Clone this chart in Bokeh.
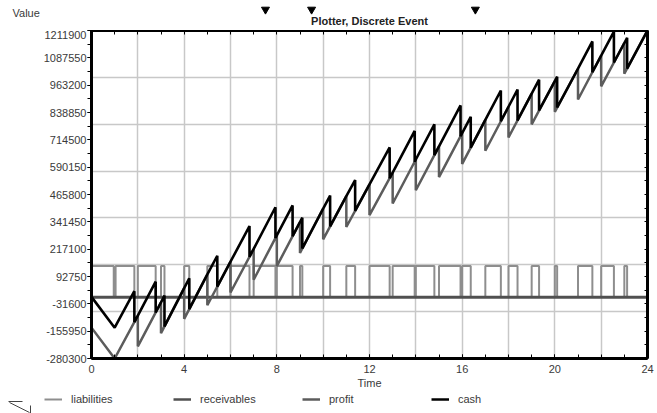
from bokeh.plotting import figure
from bokeh.layouts import column, row
from bokeh.models import FixedTicker, LinearAxis, Range1d, Legend, LegendItem, BasicTickFormatter
from bokeh.core.properties import value
from bokeh.embed import file_html
from bokeh.resources import INLINE

# ---------------- data ----------------
x_ticks = [0, 4, 8, 12, 16, 20, 24]
x_minor = list(range(0, 25))
x_grid = [2, 4, 6, 8, 10, 12, 14, 16, 18, 20, 22]

y_ticks = [-280300, -155950, -31600, 92750, 217100, 341450, 465800,
           590150, 714500, 838850, 963200, 1087550, 1211900]
y_labels = ["-280300", "-155950", "-31600", "92750", "217100", "341450", "465800",
            "590150", "714500", "838850", "963200", "1087550", "1211900"]
y_minor = [-280300, -218125, -155950, -93775, -31600, 30575, 92750, 154925, 217100,
           279275, 341450, 403625, 465800, 527975, 590150, 652325, 714500, 776675,
           838850, 901025, 963200, 1025375, 1087550, 1149725, 1211900]
y_grid = [-67129, 146043, 359214, 572386, 785557, 998729]

# liabilities: step series (value holds until next time)
liab_t = [0, 0.96, 1.04, 1.85, 2, 2.77, 3, 3.15, 4, 4.22, 5, 5.43, 6, 6.82, 7, 7.94,
          8, 8.68, 9, 9.1, 10, 10.3, 11, 11.38, 12, 12.87, 13, 13.95, 14, 14.8, 15, 15.93,
          16, 16.37, 17, 17.67, 18, 18.39, 19, 19.32, 20, 20.1, 21, 21.62, 22, 22.55, 23, 23.12, 24]
liab_v = [140000, 0, 140000, 0, 140000, 0, 140000, 0, 140000, 0, 140000, 0, 140000, 0, 140000, 0,
          140000, 0, 140000, 0, 140000, 0, 140000, 0, 140000, 0, 140000, 0, 140000, 0, 140000, 0,
          140000, 0, 140000, 0, 140000, 0, 140000, 0, 140000, 0, 140000, 0, 140000, 0, 140000, 0, 140000]

recv_t = [0, 24]
recv_v = [-2000, -2000]

profit_t = [0, 1, 2, 2, 3, 3, 4, 4, 5, 5, 6, 6, 7, 7, 8, 8, 9, 9, 10, 10, 11, 11, 12, 12,
            13, 13, 14, 14, 15, 15, 16, 16, 17, 17, 18, 18, 19, 19, 20, 20, 21, 21, 22, 22,
            23, 23, 24, 24]
profit_v = [-140000, -280300, -85000, -225000, -25000, -165000, 40000, -100000, 102000, -38000,
            160000, 20000, 218000, 78000, 280000, 140000, 340000, 200000, 402000, 262000,
            458000, 318000, 512000, 372000, 565000, 425000, 625000, 485000, 685000, 545000,
            745000, 605000, 805000, 665000, 865000, 725000, 925000, 785000, 982000, 842000,
            1038000, 898000, 1098000, 958000, 1155000, 1015000, 1211900, 1072000]

cash_t = [0, 1, 1.85, 1.85, 2, 2.77, 2.77, 3, 3.15, 3.15, 4, 4.22, 4.22, 5, 5.43, 5.43,
          6, 6.82, 6.82, 7, 7.94, 7.94, 8, 8.68, 8.68, 9, 9.1, 9.1, 10, 10.3, 10.3,
          11, 11.38, 11.38, 12, 12.87, 12.87, 13, 13.95, 13.95, 14, 14.8, 14.8,
          15, 15.93, 15.93, 16, 16.37, 16.37, 17, 17.67, 17.67, 18, 18.39, 18.39,
          19, 19.32, 19.32, 20, 20.1, 20.1, 21, 21.62, 21.62, 22, 22.55, 22.55,
          23, 23.12, 23.12, 24]
cash_v = [0, -140300, 25700, -114300, -85000, 69000, -71000, -25000, 5750, -134250,
          40000, 84440, -55560, 102000, 187140, 47140, 160000, 322360, 182360,
          218000, 407880, 267880, 280000, 416000, 276000, 340000, 360200, 220200,
          402000, 460800, 320800, 458000, 531720, 391720, 512000, 679910, 539910,
          565000, 755000, 615000, 625000, 785000, 645000, 685000, 871000, 731000,
          745000, 819000, 679000, 805000, 939000, 799000, 865000, 943000, 803000,
          925000, 988040, 848040, 982000, 1001600, 861600, 1038000, 1162000, 1022000,
          1098000, 1206350, 1066350, 1155000, 1178640, 1038640, 1211900]

marker_t = [7.51, 9.5, 16.57]
series_names = ["liabilities", "receivables", "profit", "cash"]
series_colors = ["#8e8e8e", "#505050", "#5c5c5c", "#000000"]
series_widths = [2, 3, 2.5, 2.6]

# ---------------- layout constants ----------------
FONT = "Liberation Sans"
TXT = "#3a3a3a"
W = 657
FRAME_L, FRAME_R = 91, 647          # frame edges in page pixels
HEAD_H, MAIN_H, FOOT_H = 30, 362, 21
PX_PER_T = (FRAME_R - FRAME_L) / 24.0
page_x_range = (-FRAME_L / PX_PER_T, (W - FRAME_L) / PX_PER_T)

# ---------------- header: "Value", markers, title ----------------
head = figure(width=W, height=HEAD_H, x_range=Range1d(*page_x_range), y_range=Range1d(0, HEAD_H),
              output_backend="svg", toolbar_location=None, x_axis_type=None, y_axis_type=None,
              min_border=0, outline_line_color=None)
head.grid.visible = False
head.text(x=[page_x_range[0] + 12 / PX_PER_T], y=[HEAD_H - 12], text=["Value"],
          text_font=value(FONT), text_font_size="11px", text_color=TXT,
          text_align="left", text_baseline="middle")
head.text(x=[12.0], y=[HEAD_H - 20], text=["Plotter, Discrete Event"],
          text_font=value(FONT), text_font_size="11px", text_font_style="bold",
          text_color="#222222", text_align="center", text_baseline="middle")
head.scatter(x=marker_t, y=[HEAD_H - 9] * len(marker_t), marker="inverted_triangle",
             size=8, fill_color="black", line_color="black")

# ---------------- main plot ----------------
p = figure(width=W, height=MAIN_H, x_range=Range1d(0, 24), y_range=Range1d(-280300, 1211900),
           output_backend="svg", toolbar_location=None,
           min_border_left=FRAME_L, min_border_right=W - FRAME_R, min_border_top=0,
           min_border_bottom=34)
p.outline_line_color = "black"
p.outline_line_width = 2
p.background_fill_color = "white"
p.border_fill_color = "white"

p.xgrid.ticker = FixedTicker(ticks=x_grid)
p.ygrid.ticker = FixedTicker(ticks=y_grid)
for g in (p.xgrid, p.ygrid):
    g.grid_line_color = "#c8c8c8"
    g.grid_line_width = 1.5

xa = p.xaxis[0]
xa.ticker = FixedTicker(ticks=x_ticks, minor_ticks=x_minor)
xa.major_tick_in = 4
xa.major_tick_out = 0
xa.minor_tick_in = 4
xa.minor_tick_out = 0
xa.axis_line_width = 3
xa.axis_line_color = "black"
xa.major_tick_line_color = "black"
xa.minor_tick_line_color = "black"
xa.major_label_text_font = FONT
xa.major_label_text_font_size = "11px"
xa.major_label_text_color = TXT
xa.major_label_standoff = 6
xa.axis_label = "Time"
xa.axis_label_text_font = FONT
xa.axis_label_text_font_size = "11px"
xa.axis_label_text_font_style = "normal"
xa.axis_label_text_color = TXT
xa.axis_label_standoff = 1

ya = p.yaxis[0]
ya.ticker = FixedTicker(ticks=y_ticks, minor_ticks=y_minor)
ya.formatter = BasicTickFormatter(use_scientific=False)
ya.major_label_overrides = dict(zip(y_ticks, y_labels))
ya.major_tick_in = 0
ya.major_tick_out = 4
ya.minor_tick_in = 0
ya.minor_tick_out = 4
ya.axis_line_width = 3
ya.axis_line_color = "black"
ya.major_tick_line_color = "black"
ya.minor_tick_line_color = "black"
ya.major_label_text_font = FONT
ya.major_label_text_font_size = "11px"
ya.major_label_text_color = TXT
ya.major_label_standoff = 1

right = LinearAxis(ticker=FixedTicker(ticks=y_minor), major_label_text_font_size="0px",
                   major_tick_in=3, major_tick_out=0, minor_tick_in=0, minor_tick_out=0,
                   major_label_standoff=0, axis_line_width=3, axis_line_color="black",
                   major_tick_line_color="black")
p.add_layout(right, "right")
top = LinearAxis(ticker=FixedTicker(ticks=x_minor), major_label_text_font_size="0px",
                 major_tick_in=4, major_tick_out=0, minor_tick_in=0, minor_tick_out=0,
                 major_label_standoff=0, axis_line_width=3, axis_line_color="black",
                 major_tick_line_color="black")
p.add_layout(top, "above")

p.step(liab_t, liab_v, mode="after", line_color=series_colors[0], line_width=series_widths[0])
p.line(recv_t, recv_v, line_color=series_colors[1], line_width=series_widths[1])
p.line(profit_t, profit_v, line_color=series_colors[2], line_width=series_widths[2])
p.line(cash_t, cash_v, line_color=series_colors[3], line_width=series_widths[3])

# ---------------- footer: legend + small corner icon ----------------
foot = figure(width=W, height=FOOT_H, x_range=Range1d(0, W), y_range=Range1d(0, FOOT_H),
              output_backend="svg", toolbar_location=None, x_axis_type=None, y_axis_type=None,
              min_border=0, outline_line_color=None)
foot.grid.visible = False
# small window-corner icon at the bottom left (decoration)
icon_x0 = [8, 9, 30]
icon_y0 = [FOOT_H - 9, FOOT_H - 10, FOOT_H - 13]
icon_x1 = [22, 29, 30]
icon_y1 = [FOOT_H - 9, FOOT_H - 20, FOOT_H - 21]
foot.segment(x0=icon_x0, y0=icon_y0, x1=icon_x1, y1=icon_y1, line_color="#444444", line_width=1)

items = []
for n, c, w in zip(series_names, series_colors, series_widths):
    r = foot.line(x=[-20, -10], y=[-20, -20], line_color=c, line_width=min(w, 2.5))
    items.append(LegendItem(label=n, renderers=[r]))
legend = Legend(items=items, orientation="horizontal", location=(44, 7),
                glyph_width=18, glyph_height=14, label_standoff=9, label_width=102,
                label_height=14, spacing=0, padding=0, margin=0,
                border_line_alpha=0, background_fill_alpha=0,
                label_text_font=FONT, label_text_font_size="11px", label_text_color=TXT)
foot.add_layout(legend)

layout = column(row(head), p, row(foot), spacing=0)
open("out.html", "w").write(file_html(layout, INLINE))
